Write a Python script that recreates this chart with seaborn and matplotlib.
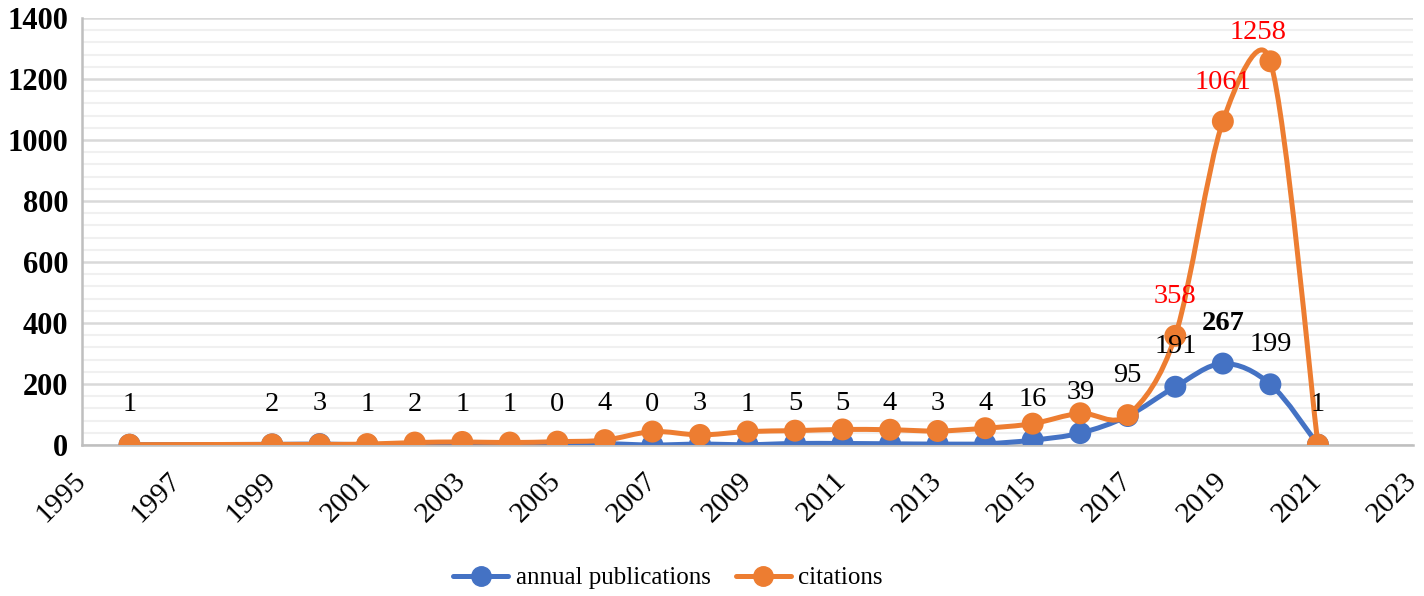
import matplotlib
matplotlib.use("Agg")
import matplotlib.pyplot as plt
import seaborn as sns
import numpy as np
from matplotlib.path import Path
from matplotlib.patches import PathPatch
from matplotlib.lines import Line2D
from matplotlib.ticker import MultipleLocator

# data
years = [1996, 1999, 2000, 2001, 2002, 2003, 2004, 2005, 2006, 2007, 2008, 2009,
         2010, 2011, 2012, 2013, 2014, 2015, 2016, 2017, 2018, 2019, 2020, 2021]
publications = [1, 2, 3, 1, 2, 1, 1, 0, 4, 0, 3, 1,
                5, 5, 4, 3, 4, 16, 39, 95, 191, 267, 199, 1]
citations = [1, 2, 2, 3, 8, 10, 8, 11, 16, 44, 33, 44,
             47, 51, 50, 46, 55, 70, 104, 98, 358, 1061, 1258, 1]
red_label_years = [2018, 2019, 2020]
year_ticks = list(range(1995, 2024, 2))
series_names = ["annual publications", "citations"]

BLUE = "#4472C4"
ORANGE = "#ED7D31"
LW = 3.6

sns.set_style("white")
plt.rcParams["font.family"] = ["Liberation Serif", "DejaVu Serif"]
plt.rcParams["text.color"] = "black"
plt.rcParams["xtick.color"] = "black"
plt.rcParams["ytick.color"] = "black"


def excel_smooth(ax, xs, ys):
    # Bezier path through the points, control arms like Excel's smoothed line
    pts = ax.transData.transform(np.column_stack([xs, ys]))
    n = len(pts)
    verts = [pts[0]]
    codes = [Path.MOVETO]
    for i in range(n - 1):
        p0 = pts[i - 1] if i > 0 else pts[i]
        p1, p2 = pts[i], pts[i + 1]
        p3 = pts[i + 2] if i + 2 < n else pts[i + 1]
        d12 = np.linalg.norm(p2 - p1)
        d02 = np.linalg.norm(p2 - p0)
        d13 = np.linalg.norm(p3 - p1)
        f0 = 1 / 6 if d02 / 6 <= d12 / 2 else d12 / (2 * d02)
        f1 = 1 / 6 if d13 / 6 <= d12 / 2 else d12 / (2 * d13)
        verts += [p1 + f0 * (p2 - p0), p2 - f1 * (p3 - p1), p2]
        codes += [Path.CURVE4] * 3
    verts = ax.transData.inverted().transform(np.array(verts))
    return Path(verts, codes)


fig = plt.figure(figsize=(14.24, 5.96), dpi=100)
ax = fig.add_axes([82 / 1424, 151 / 596, 1331 / 1424, 427 / 596])
ax.set_xlim(1995, 2023)
ax.set_ylim(0, 1400)

for ys, col, z in [(publications, BLUE, 3), (citations, ORANGE, 5)]:
    ax.add_patch(PathPatch(excel_smooth(ax, years, ys), fill=False, edgecolor=col,
                           lw=LW, capstyle="round", joinstyle="round", zorder=z))
    sns.scatterplot(x=years, y=ys, color=col, s=250, edgecolor="none",
                    linewidth=0, zorder=z + 1, ax=ax, legend=False)

ax.set_xlim(1995, 2023)
ax.set_ylim(0, 1400)

# grid
ax.set_xticks(year_ticks)
ax.yaxis.set_major_locator(MultipleLocator(200))
ax.yaxis.set_minor_locator(MultipleLocator(40))
ax.grid(False, axis="x")
ax.grid(which="minor", axis="y", color="#F0F0F0", lw=1.5, zorder=0)
ax.grid(which="major", axis="y", color="#D9D9D9", lw=1.8, zorder=0)
ax.set_axisbelow(True)
for s in ["top", "right"]:
    ax.spines[s].set_visible(False)
ax.spines["left"].set_color("#BFBFBF")
ax.spines["left"].set_linewidth(1.8)
ax.spines["bottom"].set_color("#BFBFBF")
ax.spines["bottom"].set_linewidth(1.8)

# data labels
for yr, p in zip(years, publications):
    ax.annotate(str(p), (yr, p), xytext=(0, 29), textcoords="offset points",
                ha="center", va="center", fontsize=20.5, color="black",
                fontweight="bold" if p == max(publications) else "normal", zorder=10)
for yr, c in zip(years, citations):
    if yr in red_label_years:
        dx, dy = (-9, 21) if c == max(citations) else (0, 28)
        ax.annotate(str(c), (yr, c), xytext=(dx, dy), textcoords="offset points",
                    ha="center", va="center", fontsize=20.5, color="#FF0000", zorder=10)

ax.tick_params(axis="both", which="both", length=0)
ax.tick_params(axis="y", pad=10)
ax.tick_params(axis="x", pad=23)
ax.set_yticks(range(0, 1401, 200))
ax.set_yticklabels([str(v) for v in range(0, 1401, 200)], fontweight="bold",
                   fontsize=22)
ax.set_xticklabels([str(v) for v in year_ticks], rotation=45, ha="right",
                   va="center", rotation_mode="anchor", fontsize=21)
ax.set_xlabel("")
ax.set_ylabel("")

handles = [Line2D([], [], color=BLUE, lw=LW, marker="o", markersize=14),
           Line2D([], [], color=ORANGE, lw=LW, marker="o", markersize=14)]
fig.legend(handles, series_names, loc="center", bbox_to_anchor=(0.469, 0.03),
           ncol=2, frameon=False, fontsize=18, handlelength=2.2,
           columnspacing=1.0, handletextpad=0.3)

plt.savefig("out.png", dpi=100)
plt.close()
